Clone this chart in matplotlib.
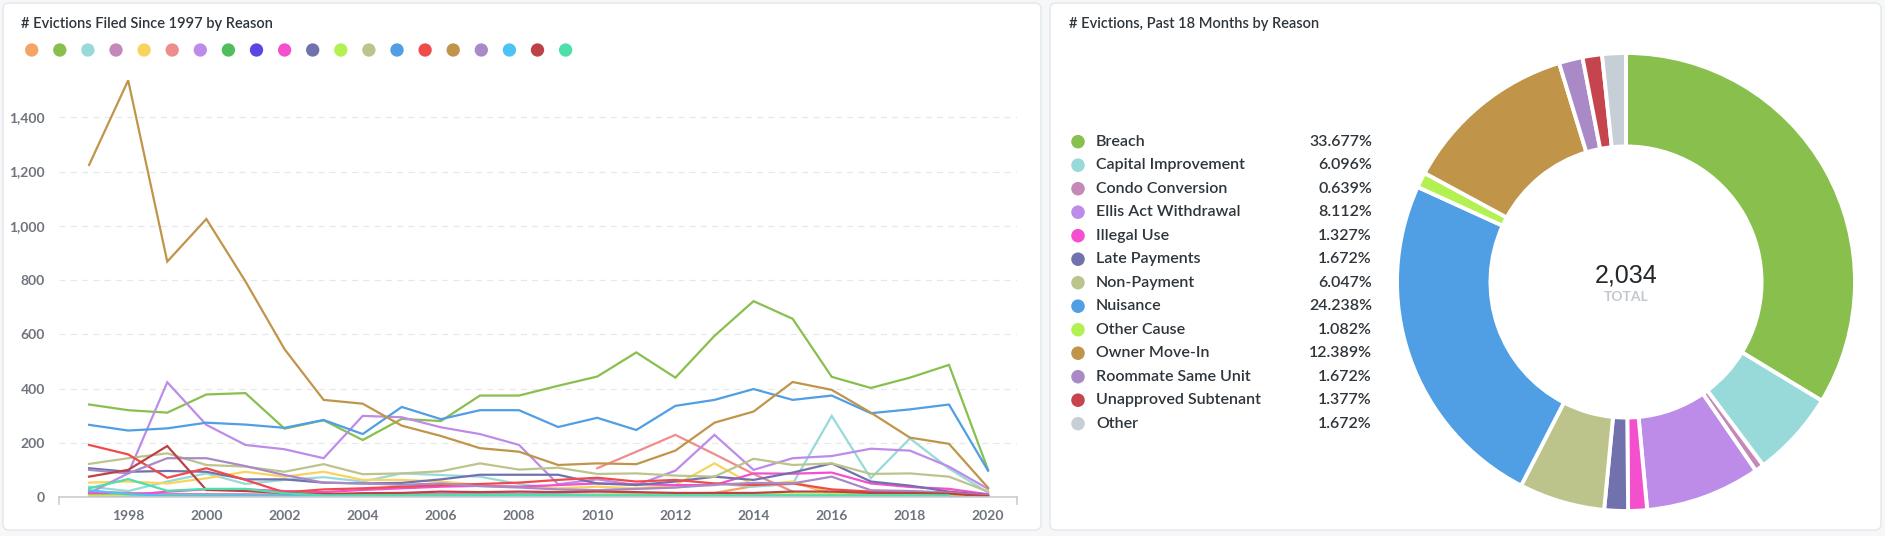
import matplotlib.pyplot as plt
import numpy as np
from matplotlib.patches import FancyBboxPatch

W, H = 1885, 536
FONT = "Lato"

years = list(range(1997, 2021))

# line chart series (one per year 1997..2020)
access_denial = [10, 8, 8, 10, 8, 8, 6, 6, 8, 10, 8, 8, 6, 8, 10, 12, 15, 40, 55, 12, 8, 6, 4, 2]
breach = [341, 320, 311, 378, 383, 252, 283, 210, 288, 280, 374, 374, 410, 444, 533, 440, 594, 722, 657, 443, 402, 440, 487, 100]
capital_improvement = [38, 22, 57, 87, 48, 63, 73, 57, 87, 81, 75, 48, 30, 25, 30, 35, 50, 38, 48, 299, 69, 216, 105, 16]
condo_conversion = [20, 15, 12, 10, 10, 8, 8, 10, 10, 12, 15, 12, 10, 8, 8, 8, 8, 8, 6, 8, 6, 5, 4, 1]
development = [53, 57, 50, 69, 93, 75, 93, 63, 63, 57, 44, 38, 32, 38, 32, 44, 124, 44, 57, 16, 10, 8, 5, 2]
failure_to_sign = [None] * 13 + [106, 167, 229, 158, 85, 20] + [None] * 5
ellis_act = [14, 87, 423, 266, 192, 176, 143, 299, 294, 257, 232, 192, 47, 65, 44, 97, 229, 100, 143, 151, 178, 171, 112, 30]
emergency = [5, 5, 4, 4, 3, 3, 3, 3, 3, 3, 3, 3, 3, 3, 3, 3, 3, 3, 3, 3, 3, 3, 3, 2]
good_samaritan = [2, 2, 2, 2, 2, 1, 1, 1, 1, 1, 1, 1, 1, 1, 1, 1, 1, 1, 1, 1, 1, 1, 1, 0]
illegal_use = [14, 7, 20, 28, 28, 22, 18, 26, 32, 38, 41, 38, 44, 50, 47, 44, 44, 87, 86, 90, 50, 37, 30, 10]
late_payments = [106, 93, 96, 93, 65, 65, 53, 50, 52, 65, 82, 82, 82, 50, 44, 57, 75, 63, 90, 124, 57, 42, 20, 7]
other_cause = [5, 6, 5, 5, 4, 4, 4, 5, 5, 5, 6, 6, 6, 8, 8, 8, 8, 10, 10, 10, 8, 8, 8, 2]
non_payment = [122, 143, 161, 118, 112, 93, 121, 84, 87, 95, 124, 101, 108, 85, 87, 79, 75, 141, 118, 124, 85, 87, 75, 20]
nuisance = [266, 245, 253, 274, 267, 255, 284, 232, 332, 287, 320, 320, 258, 292, 247, 336, 358, 398, 358, 374, 309, 323, 341, 97]
demolition = [192, 157, 71, 106, 63, 17, 28, 32, 38, 44, 48, 53, 63, 71, 57, 63, 50, 44, 50, 28, 20, 20, 17, 4]
owner_move_in = [1224, 1536, 868, 1025, 795, 545, 358, 344, 263, 225, 180, 167, 118, 124, 121, 171, 274, 315, 424, 395, 311, 219, 196, 34]
roommate_same_unit = [100, 87, 143, 143, 114, 81, 53, 50, 45, 50, 40, 35, 28, 25, 30, 35, 45, 52, 50, 75, 25, 22, 15, 5]
substantial_rehab = [25, 10, 5, 5, 5, 4, 4, 4, 4, 4, 4, 4, 4, 4, 4, 4, 4, 4, 4, 4, 4, 4, 3, None]
unapproved_subtenant = [75, 100, 188, 26, 22, 14, 11, 14, 15, 20, 18, 20, 18, 20, 18, 15, 15, 15, 20, 20, 15, 15, 12, 3]
lead_remediation = [32, 66, 23, 30, 30, 14, 6, 6, 6, 6, 8, 8, 8, 6, 6, 6, 6, 6, 6, 6, 6, 6, 6, None]

line_series = [
    access_denial, breach, capital_improvement, condo_conversion, development,
    failure_to_sign, ellis_act, emergency, good_samaritan, illegal_use,
    late_payments, other_cause, non_payment, nuisance, demolition,
    owner_move_in, roommate_same_unit, substantial_rehab, unapproved_subtenant,
    lead_remediation,
]
line_colors = [
    "#f4a466", "#88bf4d", "#98d9d9", "#c589b9", "#f9d45c",
    "#ef8c8c", "#bd8ce9", "#50be5c", "#5a47e3", "#f44fcd",
    "#7172ad", "#b3f052", "#bdc48b", "#509ee3", "#ef4b4b",
    "#c0954a", "#a98ac7", "#4ec2f5", "#bd4248", "#4edfaa",
]

y_ticks = [0, 200, 400, 600, 800, 1000, 1200, 1400]
x_ticks = list(range(1998, 2021, 2))

# donut: last 18 months
pie_labels = [
    "Breach", "Capital Improvement", "Condo Conversion", "Ellis Act Withdrawal",
    "Illegal Use", "Late Payments", "Non-Payment", "Nuisance", "Other Cause",
    "Owner Move-In", "Roommate Same Unit", "Unapproved Subtenant", "Other",
]
pie_counts = [685, 124, 13, 165, 27, 34, 123, 493, 22, 252, 34, 28, 34]
pie_colors = [
    "#88bf4d", "#98d9d9", "#c589b9", "#bd8ce9", "#f44fcd", "#7172ad",
    "#bdc48b", "#509ee3", "#b3f052", "#c0954a", "#a98ac7", "#c5444d", "#c7cfd6",
]


def fx(x):
    return x / W


def fy(y):
    return 1 - y / H


fig = plt.figure(figsize=(W / 100, H / 100), dpi=100)
fig.patch.set_facecolor("#f6f7f8")

# background cards
bg = fig.add_axes([0, 0, 1, 1], zorder=-5)
bg.set_xlim(0, W)
bg.set_ylim(H, 0)
bg.axis("off")
for x0, x1 in [(3, 1041), (1050, 1881)]:
    bg.add_patch(FancyBboxPatch((x0, 3), x1 - x0, 527, boxstyle="round,pad=0,rounding_size=6",
                                facecolor="white", edgecolor="#e3e6ea", linewidth=1.0))

# ---- line chart ----
ax = fig.add_axes([fx(59), fy(497), fx(1017) - fx(59), fy(63) - fy(497)])
ax.set_facecolor("none")
for vals, col in zip(line_series, line_colors):
    arr = np.array([np.nan if v is None else v for v in vals], dtype=float)
    ax.plot(years, arr, color=col, linewidth=1.6, solid_joinstyle="miter")

ax.set_xlim(1996.23, 2020.74)
ax.set_ylim(0, 1600)
ax.set_yticks(y_ticks)
ax.set_yticklabels([f"{v:,}" for v in y_ticks])
ax.set_xticks(x_ticks)
ax.set_xticklabels([str(v) for v in x_ticks])
for t in y_ticks[1:]:
    ax.axhline(t, color="#e6e8eb", linewidth=0.9, linestyle=(0, (5, 4)), zorder=0)
for side in ["top", "right", "left"]:
    ax.spines[side].set_visible(False)
ax.spines["bottom"].set_color("#c9ccd1")
ax.spines["bottom"].set_linewidth(1.2)
ax.plot([0, 0], [0, -0.015], transform=ax.transAxes, color="#c9ccd1", lw=1.2, clip_on=False)
ax.plot([1, 1], [0, -0.015], transform=ax.transAxes, color="#c9ccd1", lw=1.2, clip_on=False)
ax.tick_params(length=0, pad=10, labelsize=10, labelcolor="#6f747c")
for lab in ax.get_xticklabels() + ax.get_yticklabels():
    lab.set_fontfamily(FONT)
    lab.set_fontweight("bold")
ax.tick_params(axis="x", pad=9)

fig.text(fx(21), fy(24), "# Evictions Filed Since 1997 by Reason", fontsize=10.5,
         family=FONT, fontweight="semibold", color="#2e353b", va="center", ha="left")
for i, col in enumerate(line_colors):
    bg.scatter(31.7 + i * 28.1, 50, s=92, color=col, edgecolors="none")

# ---- donut ----
fig.text(fx(1069), fy(24), "# Evictions, Past 18 Months by Reason", fontsize=10.5,
         family=FONT, fontweight="semibold", color="#2e353b", va="center", ha="left")
cx, cy, r = 1626, 282, 229
pax = fig.add_axes([fx(cx - r), fy(cy + r), fx(2 * r), fy(0) - fy(2 * r)])
pax.pie(pie_counts, colors=pie_colors, startangle=90, counterclock=False,
        wedgeprops=dict(width=0.408, edgecolor="white", linewidth=2.8))
pax.set_xlim(-1.0, 1.0)
pax.set_ylim(-1.0, 1.0)
total = sum(pie_counts)
pax.text(0, 0.03, f"{total:,}", ha="center", va="center", fontsize=18,
         family="Liberation Sans", color="#22272c")
pax.text(0, -0.066, "TOTAL", ha="center", va="center", fontsize=10,
         family=FONT, fontweight="bold", color="#c3c8ce")

for i, (lab, cnt, col) in enumerate(zip(pie_labels, pie_counts, pie_colors)):
    y = 141.7 + i * 23.5
    bg.scatter(1078, y, s=95, color=col, edgecolors="none")
    fig.text(fx(1096), fy(y), lab, fontsize=11.5, family=FONT, fontweight="semibold",
             color="#2e353b", va="center", ha="left")
    fig.text(fx(1372), fy(y), f"{cnt / total * 100:.3f}%", fontsize=11.5, family=FONT,
             fontweight="semibold", color="#2e353b", va="center", ha="right")

fig.savefig("out.png", dpi=100, facecolor=fig.get_facecolor())
